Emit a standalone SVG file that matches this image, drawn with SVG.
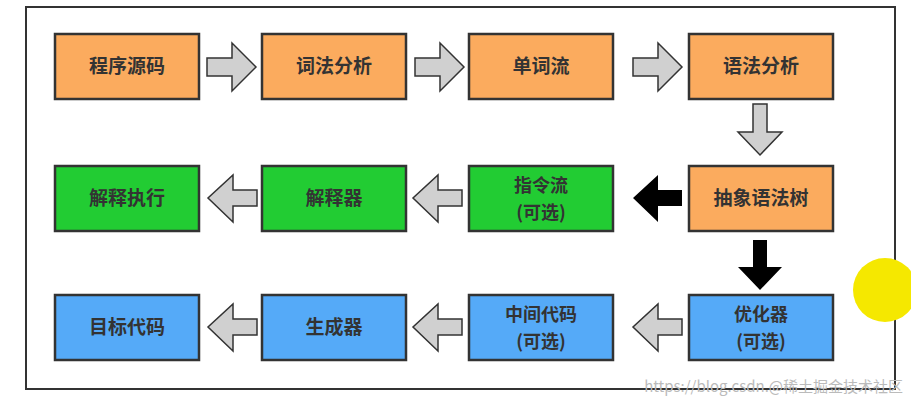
<svg xmlns="http://www.w3.org/2000/svg" width="911" height="402" viewBox="0 0 911 402">
<style>
.b{stroke:#333;stroke-width:2.5}
.o{fill:#fbab5e}.g{fill:#22cc33}.u{fill:#55aaf8}
.t{font-family:"Noto Sans CJK SC","Liberation Sans",sans-serif;font-size:19px;font-weight:bold;fill:#333;text-anchor:middle}
.s{font-size:18px}
.ga{fill:#d0d0d0;stroke:#333;stroke-width:1.5}
.ba{fill:#000}
</style>
<rect width="911" height="402" fill="#fff"/>
<rect x="26" y="7" width="869" height="382" fill="#fff" stroke="#333" stroke-width="2"/>
<circle cx="885" cy="290" r="32" fill="#f5e800"/>
<g id="n1"><rect class="b o" x="55" y="34" width="144" height="65"/><text class="t" x="127" y="73">程序源码</text></g>
<g id="n2"><rect class="b o" x="262" y="34" width="144" height="65"/><text class="t" x="334" y="73">词法分析</text></g>
<g id="n3"><rect class="b o" x="469" y="34" width="144" height="65"/><text class="t" x="541" y="73">单词流</text></g>
<g id="n4"><rect class="b o" x="689" y="34" width="144" height="65"/><text class="t" x="761" y="73">语法分析</text></g>
<g id="n5"><rect class="b o" x="689" y="166" width="144" height="65"/><text class="t" x="761" y="205">抽象语法树</text></g>
<g id="n6"><rect class="b g" x="469" y="166" width="144" height="65"/><text class="t s" x="541" y="192">指令流</text><text class="t s" x="541" y="219">(可选)</text></g>
<g id="n7"><rect class="b g" x="262" y="166" width="144" height="65"/><text class="t" x="334" y="205">解释器</text></g>
<g id="n8"><rect class="b g" x="55" y="166" width="144" height="65"/><text class="t" x="127" y="205">解释执行</text></g>
<g id="n9"><rect class="b u" x="689" y="295" width="144" height="65"/><text class="t s" x="761" y="321">优化器</text><text class="t s" x="761" y="348">(可选)</text></g>
<g id="n10"><rect class="b u" x="469" y="295" width="144" height="65"/><text class="t s" x="541" y="321">中间代码</text><text class="t s" x="541" y="348">(可选)</text></g>
<g id="n11"><rect class="b u" x="262" y="295" width="144" height="65"/><text class="t" x="334" y="334">生成器</text></g>
<g id="n12"><rect class="b u" x="55" y="295" width="144" height="65"/><text class="t" x="127" y="334">目标代码</text></g>
<g id="connectors">
<path class="ga" d="M207,58H232V43L256,67L232,91V76H207Z"/>
<path class="ga" d="M415,58H440V43L464,67L440,91V76H415Z"/>
<path class="ga" d="M633,58H658V43L682,67L658,91V76H633Z"/>
<path class="ga" d="M753,104H767V132H782L760,155L738,132H753Z"/>
<path class="ba" d="M682,190H658V175L633,198L658,222V206H682Z"/>
<path class="ga" d="M462,190H438V175L413,198L438,222V206H462Z"/>
<path class="ga" d="M257,190H233V175L208,198L233,222V206H257Z"/>
<path class="ba" d="M753,240H767V267H782L760,290L738,267H753Z"/>
<path class="ga" d="M682,319H658V304L633,327L658,351V335H682Z"/>
<path class="ga" d="M462,319H438V304L413,327L438,351V335H462Z"/>
<path class="ga" d="M257,319H233V304L208,327L233,351V335H257Z"/>
</g>
<text x="903" y="392" font-family="'Noto Sans CJK SC','Liberation Sans',sans-serif" font-size="15" fill="#bbb" text-anchor="end">https://blog.csdn.@稀土掘金技术社区</text>
</svg>
